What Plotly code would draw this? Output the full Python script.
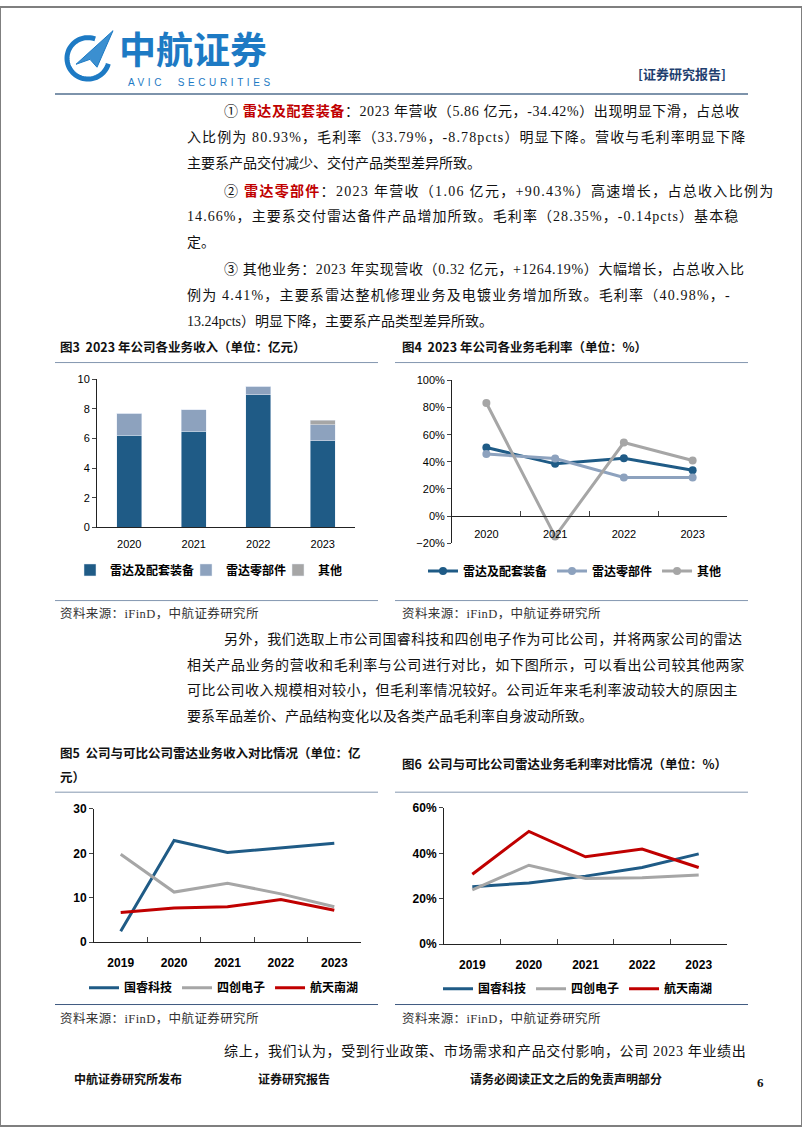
import numpy as np
import plotly.graph_objects as go

W, H = 802, 1133

# ---- data -------------------------------------------------------------
years_a = ["2020", "2021", "2022", "2023"]
rev_equip = [6.22, 6.51, 8.96, 5.86]
rev_parts = [1.49, 1.45, 0.56, 1.06]
rev_other = [0.0, 0.0, 0.02, 0.32]

margin_equip = [50.5, 38.5, 42.6, 33.8]
margin_parts = [45.7, 42.4, 28.5, 28.4]
margin_other = [83.3, -15.0, 54.2, 41.0]

years_b = ["2019", "2020", "2021", "2022", "2023"]
rev_guorui = [2.5, 22.9, 20.2, 21.2, 22.3]
rev_sichuang = [19.8, 11.3, 13.3, 10.9, 8.0]
rev_nanhu = [6.7, 7.7, 8.0, 9.6, 7.2]

margin_guorui = [25.3, 27.0, 30.0, 33.8, 39.8]
margin_sichuang = [24.0, 34.8, 29.0, 29.3, 30.5]
margin_nanhu = [30.8, 49.7, 38.5, 41.9, 33.8]

names_a = ["雷达及配套装备", "雷达零部件", "其他"]
names_b = ["国睿科技", "四创电子", "航天南湖"]

# ---- style ------------------------------------------------------------
DARK = "#1f5b86"
MID = "#8da2be"
GREY = "#a6a6a6"
RED = "#c00000"
RULE = "#8497b0"
LOGO = "#1d7ac4"
CN = "Liberation Serif, Noto Sans CJK SC"
CN_BOLD = "Noto Sans CJK SC"
SANS = "Liberation Sans, Arial"


def px(x):
    return x / W


def py(y):
    return 1 - y / H


fig = go.Figure()

# chart 3: stacked bars, each series has its own legend box so they sit close together
for vals, name, col, lg in zip([rev_equip, rev_parts, rev_other], names_a, [DARK, MID, GREY],
                               ["legend", "legend5", "legend6"]):
    fig.add_trace(go.Bar(x=years_a, y=vals, name=name, marker_color=col, width=0.39,
                         xaxis="x", yaxis="y", legend=lg, showlegend=True))

# chart 4: margins with markers
for vals, name, col in zip([margin_equip, margin_parts, margin_other], names_a, [DARK, MID, GREY]):
    fig.add_trace(go.Scatter(x=years_a, y=vals, name=name, mode="lines+markers",
                             line=dict(color=col, width=3), marker=dict(size=8, color=col),
                             xaxis="x2", yaxis="y2", legend="legend2"))

# chart 5: revenue comparison
for vals, name, col in zip([rev_guorui, rev_sichuang, rev_nanhu], names_b, [DARK, GREY, RED]):
    fig.add_trace(go.Scatter(x=years_b, y=vals, name=name, mode="lines",
                             line=dict(color=col, width=3),
                             xaxis="x3", yaxis="y3", legend="legend3"))

# chart 6: margin comparison
for vals, name, col in zip([margin_guorui, margin_sichuang, margin_nanhu], names_b, [DARK, GREY, RED]):
    fig.add_trace(go.Scatter(x=years_b, y=vals, name=name, mode="lines",
                             line=dict(color=col, width=3),
                             xaxis="x4", yaxis="y4", legend="legend4"))

tick_font = dict(family=SANS, size=11, color="#000")
tick_bold = dict(family=SANS, size=12, color="#000", weight="bold")
ax = dict(showgrid=False, showline=True, linecolor="#222", linewidth=1, zeroline=False,
          fixedrange=True)


def ydomain(top, bottom):
    return [py(bottom), py(top)]


# chart boxes (pixels)
b3 = (97, 355, 377, 527)
b4 = (452, 727, 378, 543)
b5 = (94, 361, 812, 947)
b6 = (444, 727, 811, 949)

zero4 = py(b4[3]) + (20 / 120) * (py(b4[2]) - py(b4[3]))

fig.update_layout(
    width=W, height=H, margin=dict(l=0, r=0, t=0, b=0),
    paper_bgcolor="white", plot_bgcolor="rgba(0,0,0,0)",
    barmode="stack", bargap=0.6, showlegend=True,
    xaxis=dict(ax, domain=[px(b3[0]), px(b3[1])], anchor="y", tickfont=tick_font,
               ticks="", ticklabelstandoff=6),
    yaxis=dict(ax, domain=ydomain(b3[2], b3[3]), anchor="x", range=[0, 10], dtick=2,
               ticks="outside", ticklen=4, tickfont=tick_font),
    xaxis2=dict(ax, domain=[px(b4[0]), px(b4[1])], anchor="free", position=zero4,
                range=[-0.5, 3.5], ticks="inside", ticklen=5, tickson="boundaries",
                tickfont=tick_font, ticklabelstandoff=8),
    yaxis2=dict(ax, domain=ydomain(b4[2], b4[3]), anchor="x2", range=[-20, 100], dtick=20,
                ticksuffix="%", ticks="outside", ticklen=4, tickfont=tick_font),
    xaxis3=dict(ax, domain=[px(b5[0]), px(b5[1])], anchor="y3", range=[-0.5, 4.5],
                ticks="inside", ticklen=5, tickson="boundaries", tickfont=tick_bold,
                ticklabelstandoff=9),
    yaxis3=dict(ax, domain=ydomain(b5[2], b5[3]), anchor="x3", range=[0, 30], dtick=10,
                ticks="outside", ticklen=4, tickfont=tick_bold),
    xaxis4=dict(ax, domain=[px(b6[0]), px(b6[1])], anchor="y4", range=[-0.5, 4.5],
                ticks="inside", ticklen=5, tickson="boundaries", tickfont=tick_bold,
                ticklabelstandoff=9),
    yaxis4=dict(ax, domain=ydomain(b6[2], b6[3]), anchor="x4", range=[0, 60], dtick=20,
                ticksuffix="%", ticks="outside", ticklen=4, tickfont=tick_bold),
)

leg = dict(orientation="h", yanchor="middle", bgcolor="rgba(0,0,0,0)",
           traceorder="normal", itemwidth=30,
           font=dict(family=CN_BOLD, size=12, color="#000", weight="bold"))
fig.update_layout(
    legend=dict(leg, x=px(70), xanchor="left", y=py(570)),
    legend5=dict(leg, x=px(186), xanchor="left", y=py(570)),
    legend6=dict(leg, x=px(278), xanchor="left", y=py(570)),
    legend2=dict(leg, x=px(575), xanchor="center", y=py(571)),
    legend3=dict(leg, x=px(224), xanchor="center", y=py(993)),
    legend4=dict(leg, x=px(578), xanchor="center", y=py(994)),
)

# ---- page decorations --------------------------------------------------
shapes = []


def hline(x0, x1, y, color=RULE, width=1):
    shapes.append(dict(type="line", xref="paper", yref="paper", x0=px(x0), x1=px(x1),
                       y0=py(y), y1=py(y), line=dict(color=color, width=width)))


shapes.append(dict(type="rect", xref="paper", yref="paper", x0=0, x1=1, y0=0, y1=1,
                   line=dict(color="#7f7f7f", width=2)))
hline(55, 748, 88, "#7d93ab", 2)
hline(55, 378, 360)
hline(395, 748, 360)
hline(55, 378, 601)
hline(395, 748, 601)
hline(55, 378, 795)
hline(395, 748, 795)
hline(55, 378, 1010, "#3f5a80")
hline(395, 748, 1010, "#3f5a80")

# logo swoosh and plane
t = np.linspace(np.radians(70), np.radians(345), 60)
cx, cy, r = 88, 52, 21
pts = [(cx + r * np.cos(a), cy - r * np.sin(a)) for a in t]
path = "M " + " L ".join(f"{px(x):.5f},{py(y):.5f}" for x, y in pts)
shapes.append(dict(type="path", xref="paper", yref="paper", path=path,
                   line=dict(color=LOGO, width=5)))
plane = [(76, 58), (113, 24), (97, 61), (90, 53)]
path = "M " + " L ".join(f"{px(x):.5f},{py(y):.5f}" for x, y in plane) + " Z"
shapes.append(dict(type="path", xref="paper", yref="paper", path=path,
                   fillcolor="#3b8fd0", line=dict(color=LOGO, width=1)))

fig.update_layout(shapes=shapes)

ann = []


def text(x, y, s, size=14, family=CN, color="#111", anchor="left", ls=0):
    if ls:
        s = f"<span style='letter-spacing:{ls}px'>{s}</span>"
    ann.append(dict(xref="paper", yref="paper", x=px(x), y=py(y), text=s, showarrow=False,
                    xanchor=anchor, yanchor="middle", font=dict(family=family, size=size,
                                                                color=color)))


red = lambda s: f"<b><span style='color:{RED}'>{s}</span></b>"

text(117, 42, "<b>中航证券</b>", 37, CN_BOLD, LOGO)
text(126, 76, "AVIC  SECURITIES", 10, SANS, LOGO, ls=3.6)
text(728, 67, "<b>[证券研究报告]</b>", 13, CN_BOLD, "#1f3f6f", "right")

# (x, y, text, letter-spacing used to mimic the justified lines)
body = [
    (222, 105, "① " + red("雷达及配套装备") + "：2023 年营收（5.86 亿元，-34.42%）出现明显下滑，占总收", 0.6),
    (185, 132, "入比例为 80.93%，毛利率（33.79%，-8.78pcts）明显下降。营收与毛利率明显下降", 1.12),
    (185, 158, "主要系产品交付减少、交付产品类型差异所致。", 0),
    (222, 186, "② " + red("雷达零部件") + "：2023 年营收（1.06 亿元，+90.43%）高速增长，占总收入比例为", 1.3),
    (185, 212, "14.66%，主要系交付雷达备件产品增加所致。毛利率（28.35%，-0.14pcts）基本稳", 1.07),
    (185, 238, "定。", 0),
    (222, 266, "③ 其他业务：2023 年实现营收（0.32 亿元，+1264.19%）大幅增长，占总收入比", 0.62),
    (185, 292, "例为 4.41%，主要系雷达整机修理业务及电镀业务增加所致。毛利率（40.98%，-", 1.2),
    (185, 318, "13.24pcts）明显下降，主要系产品类型差异所致。", 0),
    (222, 640, "另外，我们选取上市公司国睿科技和四创电子作为可比公司，并将两家公司的雷达", 0.4),
    (185, 666, "相关产品业务的营收和毛利率与公司进行对比，如下图所示，可以看出公司较其他两家", 0.68),
    (185, 692, "可比公司收入规模相对较小，但毛利率情况较好。公司近年来毛利率波动较大的原因主", 0.5),
    (185, 718, "要系军品差价、产品结构变化以及各类产品毛利率自身波动所致。", 0),
    (222, 1057, "综上，我们认为，受到行业政策、市场需求和产品交付影响，公司 2023 年业绩出", 0.65),
]
for x, y, s, ls in body:
    text(x, y, s, ls=ls)

title_font = dict(size=12.5, family=CN_BOLD, color="#111")
text(58, 344, "<b>图3  2023 年公司各业务收入（单位：亿元）</b>", **title_font)
text(400, 344, "<b>图4  2023 年公司各业务毛利率（单位：%）</b>", **title_font)
text(58, 755, "<b>图5  公司与可比公司雷达业务收入对比情况（单位：亿</b>", **title_font)
text(58, 779, "<b>元）</b>", **title_font)
text(400, 766, "<b>图6  公司与可比公司雷达业务毛利率对比情况（单位：%）</b>", **title_font)

for x, y in [(58, 614), (400, 614), (58, 1024), (400, 1024)]:
    text(x, y, "资料来源：iFinD，中航证券研究所", 12.5, CN, "#333", ls=0.4)

foot = dict(size=12, family=CN_BOLD, color="#111")
text(72, 1085, "<b>中航证券研究所发布</b>", **foot)
text(256, 1085, "<b>证券研究报告</b>", **foot)
text(468, 1085, "<b>请务必阅读正文之后的免责声明部分</b>", **foot)
text(755, 1089, "<b>6</b>", 13, "Liberation Serif", "#111")

fig.update_layout(annotations=ann)

fig.write_html("out.html", config={"displayModeBar": False},
               post_script="document.body.style.margin='0';")
